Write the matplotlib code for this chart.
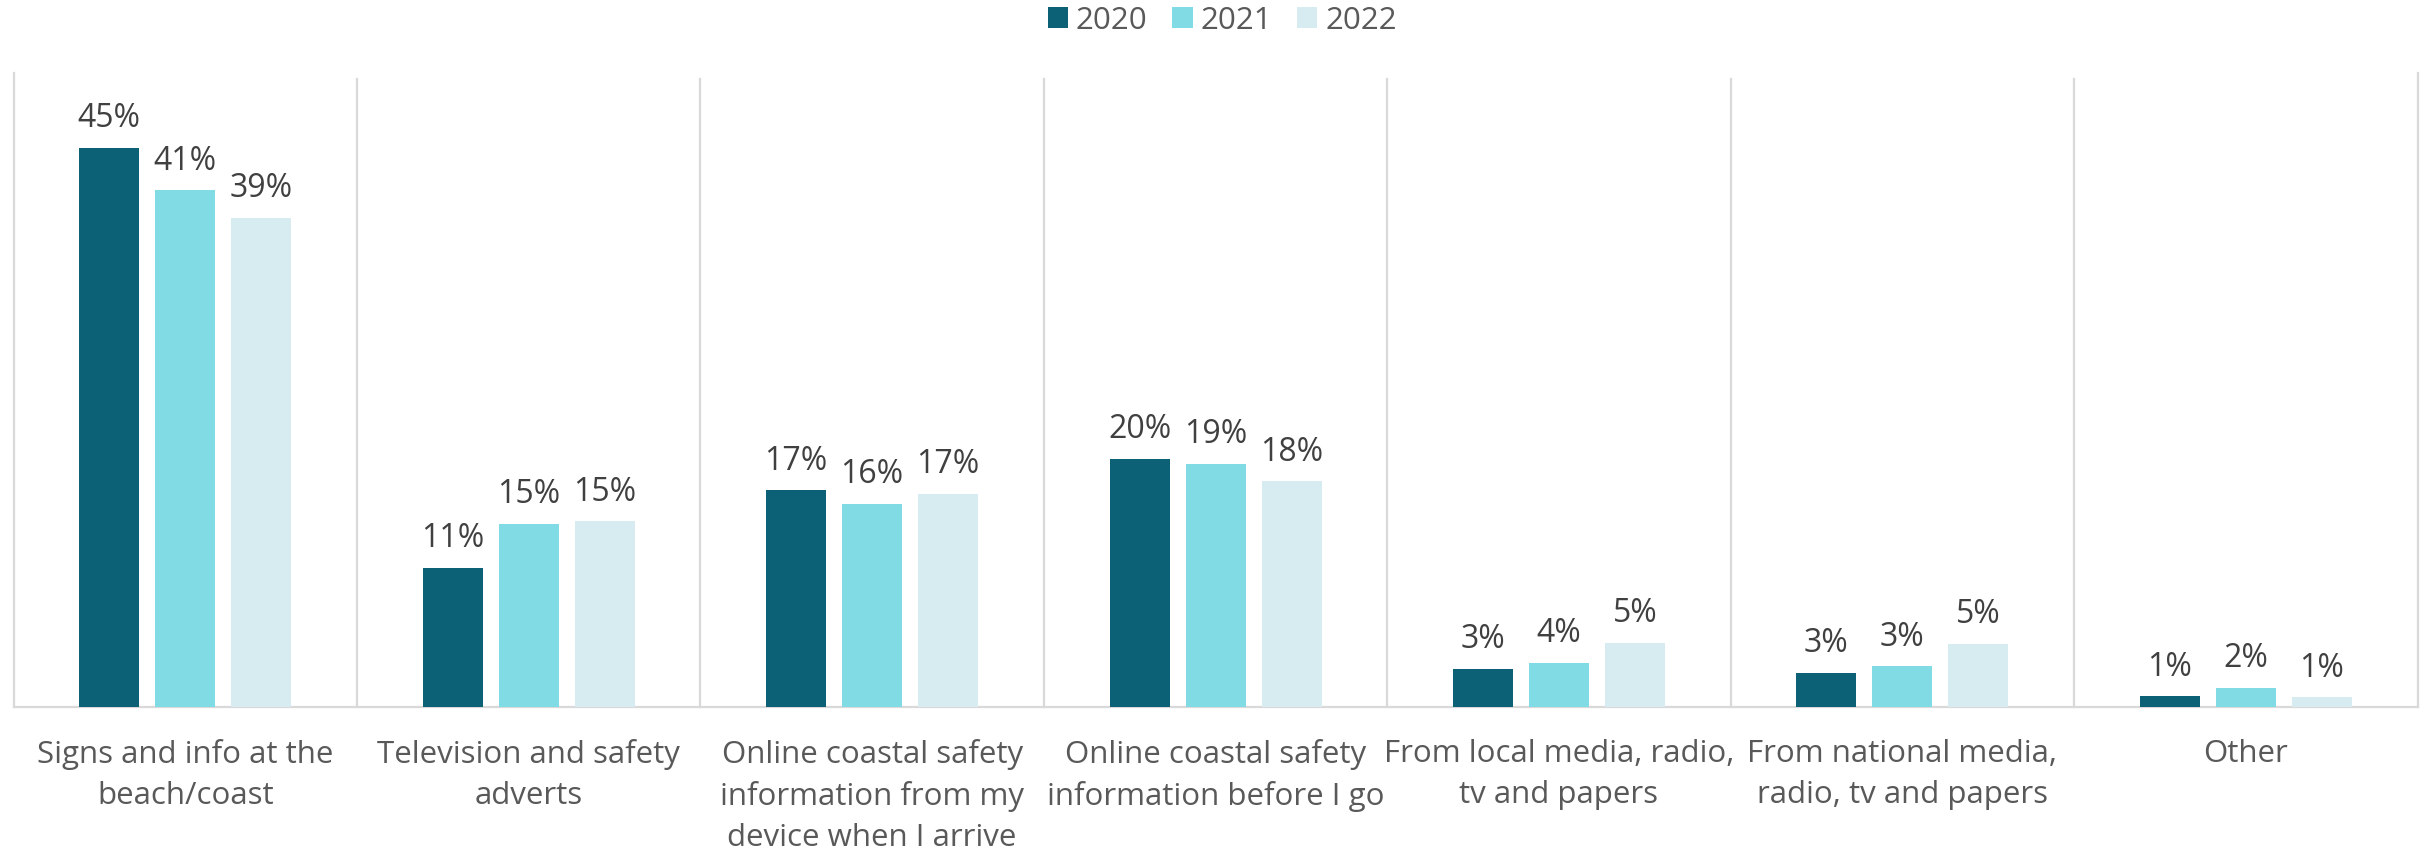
import matplotlib
matplotlib.use("Agg")
import matplotlib.pyplot as plt
import numpy as np

categories = [
    "Signs and info at the\nbeach/coast",
    "Television and safety\nadverts",
    "Online coastal safety\ninformation from my\ndevice when I arrive",
    "Online coastal safety\ninformation before I go",
    "From local media, radio,\ntv and papers",
    "From national media,\nradio, tv and papers",
    "Other",
]
years = ["2020", "2021", "2022"]
v2020 = [44.8, 11.2, 17.4, 19.9, 3.1, 2.8, 0.9]
v2021 = [41.4, 14.7, 16.3, 19.5, 3.6, 3.3, 1.6]
v2022 = [39.2, 14.9, 17.1, 18.1, 5.2, 5.1, 0.8]
labels2020 = ["45%", "11%", "17%", "20%", "3%", "3%", "1%"]
labels2021 = ["41%", "15%", "16%", "19%", "4%", "3%", "2%"]
labels2022 = ["39%", "15%", "17%", "18%", "5%", "5%", "1%"]

colors = ["#0d6177", "#80dbe5", "#d7ecf1"]
series = [v2020, v2021, v2022]
labels = [labels2020, labels2021, labels2022]

plt.rcParams["font.family"] = ["Open Sans", "DejaVu Sans"]

fig = plt.figure(figsize=(24.25, 8.56), dpi=100)
ax = fig.add_axes([0.00557, 0.1735, 0.99134, 0.7412])

x = np.arange(len(categories))
bw = 0.1747
step = 0.2213
handles = []
for i, (vals, col, labs) in enumerate(zip(series, colors, labels)):
    pos = x + (i - 1) * step
    b = ax.bar(pos, vals, width=bw, color=col, label=years[i], zorder=3)
    handles.append(b)
    for p, v, t in zip(pos, vals, labs):
        ax.annotate(t, (p, v), xytext=(0, 9), textcoords="offset points",
                    ha="center", va="bottom", fontsize=23, color="#404040")

ax.set_xlim(-0.5, len(categories) - 0.5)
ax.set_ylim(0, 50.8)
ax.set_yticks([])
ax.set_xticks(x)
ax.set_xticklabels(categories, fontsize=22.5, color="#595959", linespacing=1.45)
ax.tick_params(axis="x", length=0, pad=23)

for b in np.arange(0.5, len(categories) - 1, 1.0):
    ax.plot([b, b], [0, 50.3], color="#d9d9d9", lw=1.6, zorder=1, clip_on=False)

for s in ["left", "right", "bottom"]:
    ax.spines[s].set_color("#d9d9d9")
    ax.spines[s].set_linewidth(1.6)
ax.spines["top"].set_visible(False)

fig.legend(handles=handles, labels=years, loc="center", bbox_to_anchor=(0.504, 0.976),
           ncol=3, frameon=False, fontsize=22.5, handlelength=0.65, handleheight=0.65,
           handletextpad=0.25, columnspacing=0.8, labelcolor="#595959")

fig.savefig("out.png", dpi=100)
